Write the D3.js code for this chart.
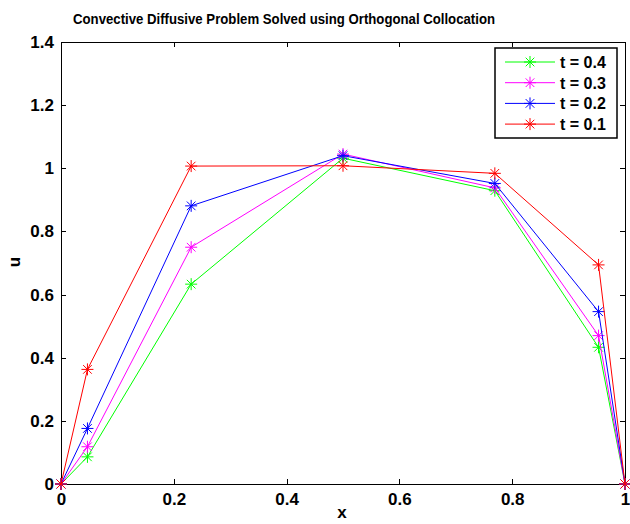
<!DOCTYPE html>
<html lang="en">
<head>
    <meta charset="UTF-8">
    <title>Convective Diffusive Problem</title>
    <script src="https://d3js.org/d3.v7.min.js"></script>
    <style>
        body { margin: 0; background: #fff; }
        svg text { font-family: Arial, "Liberation Sans", sans-serif; font-weight: bold; fill: #000; }
        .axis path, .axis line { stroke: #000; shape-rendering: crispEdges; }
    </style>
</head>
<body>
    <svg id="chart" width="630" height="524"></svg>
    <script>
        // collocation points
        const xPoints = [0, 0.0469, 0.2308, 0.5, 0.7692, 0.9531, 1];

        // u values at each time
        const u04 = [0, 0.086, 0.633, 1.032, 0.929, 0.433, 0];
        const u03 = [0, 0.118, 0.750, 1.045, 0.938, 0.470, 0];
        const u02 = [0, 0.176, 0.881, 1.040, 0.952, 0.546, 0];
        const u01 = [0, 0.363, 1.007, 1.008, 0.984, 0.694, 0];

        const seriesNames = ["t = 0.4", "t = 0.3", "t = 0.2", "t = 0.1"];
        const seriesColors = ["#00ff00", "#ff00ff", "#0000ff", "#ff0000"];
        const seriesValues = [u04, u03, u02, u01];

        const xTicks = [0, 0.2, 0.4, 0.6, 0.8, 1];
        const yTicks = [0, 0.2, 0.4, 0.6, 0.8, 1, 1.2, 1.4];

        const svg = d3.select("#chart");
        const pl = 61, pr = 625, pt = 42, pb = 484;

        const x = d3.scaleLinear().domain([0, 1]).range([pl, pr]);
        const y = d3.scaleLinear().domain([0, 1.4]).range([pb, pt]);

        // box
        svg.append("rect")
            .attr("x", pl).attr("y", pt)
            .attr("width", pr - pl).attr("height", pb - pt)
            .attr("fill", "none").attr("stroke", "#000")
            .attr("shape-rendering", "crispEdges");

        // axes with inward ticks
        const xAxis = svg.append("g").attr("class", "axis")
            .attr("transform", `translate(0,${pb})`)
            .call(d3.axisBottom(x).tickValues(xTicks).tickSize(-5).tickPadding(9).tickFormat(d3.format("~g")));
        const yAxis = svg.append("g").attr("class", "axis")
            .attr("transform", `translate(${pl},0)`)
            .call(d3.axisLeft(y).tickValues(yTicks).tickSize(-5).tickPadding(7).tickFormat(d3.format("~g")));
        svg.append("g").attr("class", "axis")
            .attr("transform", `translate(0,${pt})`)
            .call(d3.axisTop(x).tickValues(xTicks).tickSize(-5).tickFormat(""));
        svg.append("g").attr("class", "axis")
            .attr("transform", `translate(${pr},0)`)
            .call(d3.axisRight(y).tickValues(yTicks).tickSize(-5).tickFormat(""));
        svg.selectAll(".axis .domain").remove();
        xAxis.selectAll("text").style("font-size", "17px").style("font-family", "Arial, 'Liberation Sans', sans-serif");
        yAxis.selectAll("text").style("font-size", "17px").style("font-family", "Arial, 'Liberation Sans', sans-serif");

        // star marker (MATLAB '*')
        function star(g, cx, cy, color, r) {
            const d = r * 0.72;
            const p = `M${cx - r},${cy}L${cx + r},${cy}M${cx},${cy - r}L${cx},${cy + r}` +
                `M${cx - d},${cy - d}L${cx + d},${cy + d}M${cx - d},${cy + d}L${cx + d},${cy - d}`;
            g.append("path").attr("d", p).attr("stroke", color).attr("stroke-width", 1).attr("fill", "none");
        }

        const line = d3.line().x(d => x(d[0])).y(d => y(d[1]));

        seriesValues.forEach((vals, i) => {
            const g = svg.append("g");
            const pts = xPoints.map((xv, j) => [xv, vals[j]]);
            g.append("path").datum(pts)
                .attr("d", line)
                .attr("fill", "none")
                .attr("stroke", seriesColors[i])
                .attr("stroke-width", 1);
            pts.forEach(p => star(g, x(p[0]), y(p[1]), seriesColors[i], 6));
        });

        // title and labels
        svg.append("text")
            .attr("x", 284).attr("y", 24)
            .attr("text-anchor", "middle")
            .attr("textLength", 422)
            .attr("lengthAdjust", "spacingAndGlyphs")
            .style("font-size", "15px")
            .text("Convective Diffusive Problem Solved using Orthogonal Collocation");
        svg.append("text")
            .attr("x", 342).attr("y", 518)
            .attr("text-anchor", "middle")
            .style("font-size", "17px")
            .text("x");
        svg.append("text")
            .attr("transform", "translate(20,262) rotate(-90)")
            .attr("text-anchor", "middle")
            .style("font-size", "17px")
            .text("u");

        // legend
        const lg = svg.append("g");
        lg.append("rect")
            .attr("x", 495).attr("y", 48).attr("width", 122).attr("height", 90)
            .attr("fill", "#fff").attr("stroke", "#000").attr("stroke-width", 1.5);
        seriesNames.forEach((name, i) => {
            const ly = 62 + i * 20.7;
            lg.append("line")
                .attr("x1", 505).attr("x2", 555).attr("y1", ly).attr("y2", ly)
                .attr("stroke", seriesColors[i]).attr("stroke-width", 1);
            star(lg, 530, ly, seriesColors[i], 6);
            lg.append("text")
                .attr("x", 560).attr("y", ly + 6)
                .style("font-size", "16px")
                .text(name);
        });
    </script>
</body>
</html>
